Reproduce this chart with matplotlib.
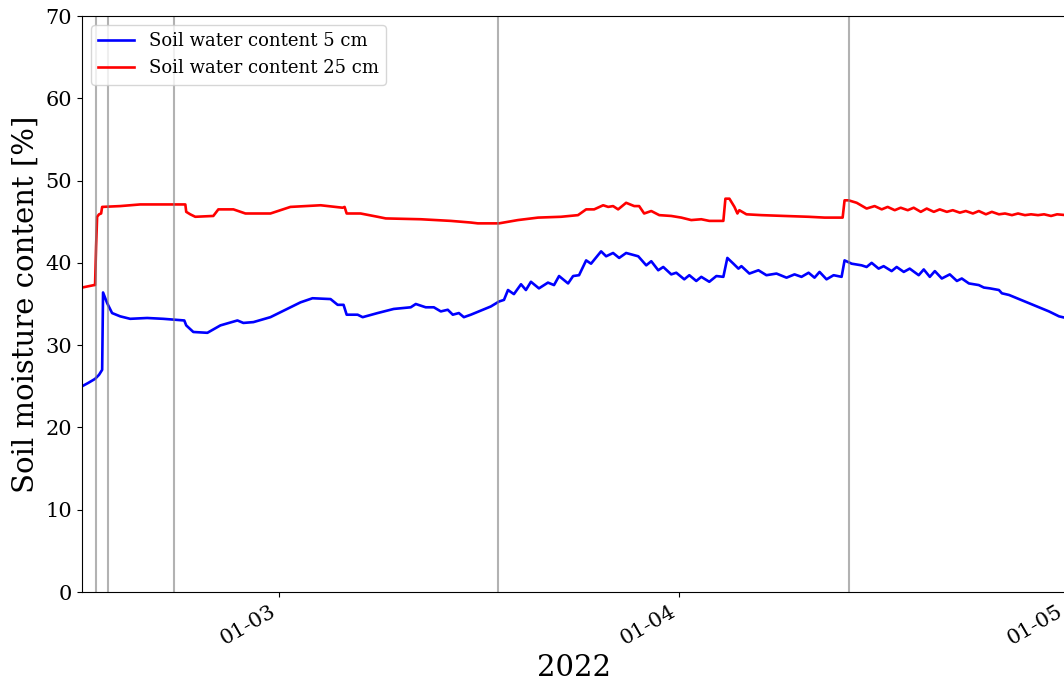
import numpy as np
import pandas as pd
import matplotlib
matplotlib.use('Agg')
import matplotlib.pyplot as plt
import matplotlib.dates as mdates

plt.rcParams['font.family'] = 'DejaVu Serif'

# time axis: days relative to 1 March 2022
t_ref = pd.Timestamp('2022-03-01')

days_25 = [-15.31, -14.37, -14.30, -14.22, -14.14, -13.99, -13.83, -13.75, -12.35, -10.80,
           -7.30, -7.23, -6.92, -6.53, -5.13, -4.74, -3.57, -2.64, -0.70, 0.85,
           3.19, 4.90, 5.05, 5.21, 6.29, 7.61, 8.24, 10.96, 13.29, 14.84,
           15.38, 17.02, 18.49, 20.05, 21.83, 23.15, 23.78, 24.40, 25.10, 25.49,
           25.87, 26.26, 26.88, 27.51, 27.89, 28.28, 28.83, 29.45, 30.38, 31.16,
           31.93, 32.71, 33.33, 34.42, 34.58, 34.89, 35.28, 35.51, 35.66, 36.21,
           37.37, 39.16, 41.03, 42.27, 43.67, 43.82, 44.13, 44.76, 45.53, 46.15,
           46.70, 47.16, 47.71, 48.17, 48.72, 49.18, 49.73, 50.19, 50.74, 51.20,
           51.75, 52.21, 52.76, 53.22, 53.77, 54.23, 54.78, 55.24, 55.79, 56.26,
           56.80, 57.27, 57.81, 58.28, 58.82, 59.29, 59.83, 60.30, 61.00]
swc_25 = [37.0, 37.3, 37.3, 42.0, 45.6, 45.9, 46.0, 46.8, 46.9, 47.1,
          47.1, 46.2, 45.9, 45.6, 45.7, 46.5, 46.5, 46.0, 46.0, 46.8,
          47.0, 46.7, 46.8, 46.0, 46.0, 45.6, 45.4, 45.3, 45.1, 44.9,
          44.8, 44.8, 45.2, 45.5, 45.6, 45.8, 46.5, 46.5, 47.0, 46.8,
          46.9, 46.5, 47.3, 46.9, 46.9, 46.0, 46.3, 45.8, 45.7, 45.5,
          45.2, 45.3, 45.1, 45.1, 47.8, 47.8, 46.8, 46.0, 46.4, 45.9,
          45.8, 45.7, 45.6, 45.5, 45.5, 47.6, 47.6, 47.3, 46.6, 46.9,
          46.5, 46.8, 46.4, 46.7, 46.4, 46.7, 46.2, 46.6, 46.2, 46.5,
          46.2, 46.4, 46.1, 46.3, 46.0, 46.3, 45.9, 46.2, 45.9, 46.0,
          45.8, 46.0, 45.8, 45.9, 45.8, 45.9, 45.7, 45.9, 45.8]

days_5 = [-15.31, -14.84, -14.30, -13.99, -13.83, -13.75, -13.68, -13.36, -12.98, -12.35,
          -11.58, -10.26, -9.01, -7.38, -7.23, -6.68, -5.59, -4.58, -3.26, -2.80,
          -2.02, -0.70, 0.85, 1.63, 2.56, 3.96, 4.51, 4.97, 5.21, 6.06,
          6.45, 7.61, 8.86, 10.18, 10.57, 11.34, 11.97, 12.51, 13.05, 13.44,
          13.91, 14.30, 14.84, 15.62, 16.39, 17.02, 17.41, 17.72, 18.18, 18.73,
          19.11, 19.50, 20.12, 20.82, 21.29, 21.68, 22.38, 22.77, 23.23, 23.78,
          24.16, 24.94, 25.33, 25.87, 26.34, 26.88, 27.82, 28.44, 28.83, 29.37,
          29.76, 30.38, 30.77, 31.39, 31.78, 32.32, 32.71, 33.33, 33.88, 34.42,
          34.73, 35.20, 35.59, 35.82, 36.44, 37.14, 37.76, 38.54, 39.32, 39.94,
          40.48, 41.03, 41.49, 41.88, 42.42, 42.97, 43.59, 43.82, 44.37, 45.14,
          45.53, 45.92, 46.46, 46.85, 47.47, 47.86, 48.41, 48.87, 49.57, 49.96,
          50.43, 50.82, 51.36, 51.98, 52.53, 52.91, 53.46, 54.23, 54.62, 55.09,
          55.79, 56.02, 56.57, 57.34, 58.12, 58.90, 59.67, 60.45, 61.00]
swc_5 = [25.0, 25.4, 25.9, 26.4, 26.8, 27.0, 36.4, 35.1, 33.9, 33.5,
         33.2, 33.3, 33.2, 33.0, 32.4, 31.6, 31.5, 32.4, 33.0, 32.7,
         32.8, 33.4, 34.6, 35.2, 35.7, 35.6, 34.9, 34.9, 33.7, 33.7,
         33.4, 33.9, 34.4, 34.6, 35.0, 34.6, 34.6, 34.1, 34.3, 33.7,
         33.9, 33.4, 33.7, 34.2, 34.7, 35.3, 35.5, 36.7, 36.2, 37.4,
         36.7, 37.7, 36.9, 37.6, 37.3, 38.4, 37.5, 38.4, 38.5, 40.3,
         39.9, 41.4, 40.8, 41.2, 40.6, 41.2, 40.8, 39.7, 40.2, 39.1,
         39.5, 38.6, 38.8, 38.0, 38.5, 37.8, 38.3, 37.7, 38.4, 38.3,
         40.6, 39.9, 39.3, 39.6, 38.7, 39.1, 38.5, 38.7, 38.2, 38.6,
         38.3, 38.8, 38.2, 38.9, 38.0, 38.5, 38.3, 40.3, 39.9, 39.7,
         39.5, 40.0, 39.3, 39.6, 39.0, 39.5, 38.9, 39.3, 38.5, 39.2,
         38.3, 39.0, 38.1, 38.6, 37.8, 38.1, 37.5, 37.3, 37.0, 36.9,
         36.7, 36.3, 36.1, 35.6, 35.1, 34.6, 34.1, 33.5, 33.3]

# event markers (days relative to 1 March)
event_days = [-14.22, -13.29, -8.16, 16.94, 44.13]


def to_time(days):
    return t_ref + pd.to_timedelta(np.asarray(days), unit='D')


fig = plt.figure(figsize=(10.64, 6.84), dpi=100)
ax = fig.add_axes([0.0771, 0.1345, 0.9255, 0.8421])

ax.plot(to_time(days_5), swc_5, color='blue', lw=1.9, label='Soil water content 5 cm')
ax.plot(to_time(days_25), swc_25, color='red', lw=1.9, label='Soil water content 25 cm')
for t in to_time(event_days):
    ax.axvline(t, color='grey', alpha=0.6, lw=1.5)

ax.set_xlim(to_time([-15.31])[0], to_time([61.05])[0])
ax.set_ylim(0, 70)
ax.xaxis.set_major_locator(mdates.MonthLocator())
ax.xaxis.set_major_formatter(mdates.DateFormatter('%d-%m'))
for lbl in ax.get_xticklabels():
    lbl.set_rotation(30)
    lbl.set_ha('right')
ax.tick_params(labelsize=15)

ax.set_xlabel('2022', fontsize=21)
ax.set_ylabel('Soil moisture content [%]', fontsize=21)
ax.legend(loc='upper left', fontsize=13)

fig.savefig('out.png', dpi=100)
